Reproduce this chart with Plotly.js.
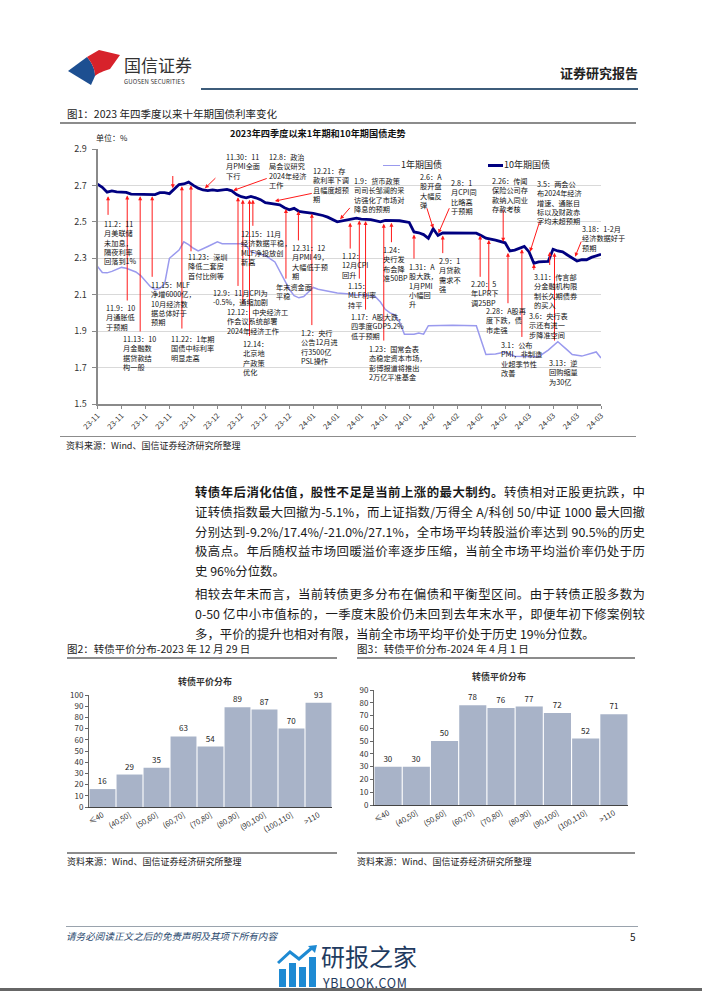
<!DOCTYPE html>
<html>
<head>
<meta charset="utf-8">
<script src="https://cdn.plot.ly/plotly-3.0.1.min.js"></script>
<style>
  html,body{margin:0;padding:0;background:#fff;}
  body{width:702px;height:991px;position:relative;overflow:hidden;font-family:"Noto Sans CJK SC","Noto Sans",sans-serif;color:#222;}
  #chart{position:absolute;left:0;top:0;width:702px;height:991px;}
  .abs{position:absolute;white-space:nowrap;}
  .rule{position:absolute;background:#8c8c8c;}
  .para{position:absolute;left:195px;width:450px;font-size:12.4px;line-height:19.8px;color:#1a1a1a;}
  .jl{text-align:justify;text-align-last:justify;white-space:nowrap;}
  .ll{text-align:left;white-space:nowrap;}
</style>
</head>
<body>
<div id="chart"></div>

<!-- header -->
<svg class="abs" style="left:68px;top:50px" width="52" height="36" viewBox="0 0 52 36">
  <path d="M0 21 L19 7 C24 13 27 19 27 26 L23 35 Z" fill="#1d4f91"/>
  <path d="M19 7 L31 0 L52 5 L42 19 C36 21 30 23 27 26 C27 19 24 13 19 7 Z" fill="#d7222b"/>
</svg>
<div class="abs" style="left:124px;top:55px;font-size:17px;line-height:20px;color:#333;">国信证券</div>
<div class="abs" style="left:124px;top:78px;font-size:6px;line-height:7px;color:#333;letter-spacing:0.1px;">GUOSEN SECURITIES</div>
<div class="rule" style="left:201px;top:88px;width:437px;height:2px;background:#3d5c7a;"></div>
<div class="abs" style="right:64px;top:64px;font-size:13px;line-height:17px;font-weight:bold;color:#222;">证券研究报告</div>

<!-- figure 1 -->
<div class="abs" style="left:67px;top:107px;font-size:10.5px;line-height:14px;color:#222;">图1：2023 年四季度以来十年期国债利率变化</div>
<div class="rule" style="left:60px;top:122px;width:576px;height:1.5px;"></div>
<div class="abs" style="left:230px;top:127px;font-size:9.2px;line-height:12px;font-weight:bold;color:#111;">2023年四季度以来1年期和10年期国债走势</div>
<div class="abs" style="left:96px;top:133px;font-size:8px;line-height:10px;color:#222;">单位：%</div>
<div class="abs" style="left:383px;top:164.5px;width:17px;height:1.5px;background:#9a9aee;"></div>
<div class="abs" style="left:401px;top:159px;font-size:9px;line-height:12px;color:#222;">1年期国债</div>
<div class="abs" style="left:488px;top:163.5px;width:15px;height:3px;background:#000080;"></div>
<div class="abs" style="left:504px;top:159px;font-size:9px;line-height:12px;color:#222;">10年期国债</div>
<div class="rule" style="left:60px;top:435.5px;width:576px;height:1.5px;"></div>
<div class="abs" style="left:66px;top:440px;font-size:9px;line-height:12px;color:#222;">资料来源：Wind、国信证券经济研究所整理</div>

<!-- paragraphs -->
<div class="para" style="top:483px;">
  <div class="jl"><b>转债年后消化估值，股性不足是当前上涨的最大制约。</b>转债相对正股更抗跌，中</div>
  <div class="jl">证转债指数最大回撤为-5.1%，而上证指数/万得全 A/科创 50/中证 1000 最大回撤</div>
  <div class="jl">分别达到-9.2%/17.4%/-21.0%/27.1%，全市场平均转股溢价率达到 90.5%的历史</div>
  <div class="jl">极高点。年后随权益市场回暖溢价率逐步压缩，当前全市场平均溢价率仍处于历</div>
  <div class="ll">史 96%分位数。</div>
</div>
<div class="para" style="top:585px;">
  <div class="jl">相较去年末而言，当前转债更多分布在偏债和平衡型区间。由于转债正股多数为</div>
  <div class="jl">0-50 亿中小市值标的，一季度末股价仍未回到去年末水平，即便年初下修案例较</div>
  <div class="ll">多，平价的提升也相对有限，当前全市场平均平价处于历史 19%分位数。</div>
</div>

<!-- figure 2 / 3 captions -->
<div class="abs" style="left:67px;top:642px;font-size:10.5px;line-height:14px;color:#222;">图2：转债平价分布-2023 年 12 月 29 日</div>
<div class="rule" style="left:67px;top:657px;width:270px;height:1.5px;"></div>
<div class="abs" style="left:357px;top:642px;font-size:10.5px;line-height:14px;color:#222;">图3：转债平价分布-2024 年 4 月 1 日</div>
<div class="rule" style="left:357px;top:657px;width:278px;height:1.5px;"></div>
<div class="abs" style="left:178px;top:676px;font-size:9px;line-height:12px;font-weight:bold;color:#333;">转债平价分布</div>
<div class="abs" style="left:472px;top:671px;font-size:9px;line-height:12px;font-weight:bold;color:#333;">转债平价分布</div>
<div class="rule" style="left:67px;top:852px;width:270px;height:1.5px;"></div>
<div class="rule" style="left:357px;top:852px;width:278px;height:1.5px;"></div>
<div class="abs" style="left:67px;top:856px;font-size:9px;line-height:12px;color:#222;">资料来源：Wind、国信证券经济研究所整理</div>
<div class="abs" style="left:357px;top:856px;font-size:9px;line-height:12px;color:#222;">资料来源：Wind、国信证券经济研究所整理</div>

<!-- footer -->
<div class="rule" style="left:66px;top:926px;width:572px;height:1px;background:#9aa3ad;"></div>
<div class="abs" style="left:66px;top:930px;font-size:9.6px;line-height:12px;font-style:italic;color:#2b4a6f;">请务必阅读正文之后的免责声明及其项下所有内容</div>
<div class="abs" style="left:630px;top:930px;font-size:10px;line-height:13px;color:#222;">5</div>
<svg class="abs" style="left:277px;top:945px" width="42" height="42" viewBox="0 0 42 42">
  <rect x="2" y="24" width="7" height="18" fill="#1e8ad3"/>
  <rect x="12" y="18" width="7" height="24" fill="#1e8ad3"/>
  <rect x="22" y="22" width="7" height="20" fill="#1e8ad3"/>
  <rect x="32" y="12" width="7" height="30" fill="#1e8ad3"/>
  <polyline points="1,18 13,7 22,14 36,2" fill="none" stroke="#1e8ad3" stroke-width="3"/>
  <polygon points="31,1 40,0 38,8" fill="#1e8ad3"/>
</svg>
<div class="abs" style="left:321px;top:944px;font-size:24px;line-height:24px;color:#1f3b60;">研报之家</div>
<div class="abs" style="left:323px;top:977px;font-size:12.5px;line-height:12px;color:#1f3b60;letter-spacing:0.6px;">YBLOOK.COM</div>
<div class="abs" style="left:0;top:988px;width:702px;height:3px;background:#666;"></div>

<script>
// ---------------- data ----------------
const tickLabels = ['23-11','23-11','23-11','23-11','23-11','23-12','23-12','23-12','23-12',
                    '24-01','24-01','24-01','24-01','24-01','24-02','24-02','24-02','24-02',
                    '24-03','24-03','24-03','24-03'];

// trading-day position (0 = first day shown) and yields
const days10y = [0,1,2,3,4,6,7,9,12,13,14,15,16,17,18,19,20,21,22,23,24,25,27,28,29,30,31,32,33,34,35,37,38,39,40,41,42,43,45,47,48,50,51,52,54,55,57,59,60,63,65,66,67,68,69,70,71,72,74,77,79,80,81,83,85,86,87,89,90,91,92,94,95,96,97,98,100,101,102,103,104,105];
const yield10y = [2.707,2.69,2.663,2.67,2.665,2.662,2.652,2.65,2.65,2.66,2.66,2.655,2.68,2.705,2.708,2.718,2.70,2.685,2.675,2.672,2.676,2.672,2.678,2.67,2.65,2.638,2.632,2.64,2.632,2.622,2.605,2.597,2.594,2.578,2.566,2.574,2.558,2.554,2.547,2.535,2.526,2.50,2.506,2.512,2.52,2.515,2.512,2.50,2.508,2.506,2.497,2.445,2.44,2.43,2.41,2.462,2.425,2.44,2.44,2.438,2.438,2.425,2.41,2.40,2.385,2.34,2.345,2.365,2.335,2.272,2.28,2.283,2.35,2.34,2.335,2.318,2.285,2.292,2.292,2.305,2.315,2.322];

const days1y = [0,1,2,3,5,6,8,9,11,12,13,14,15,16,17,18,19,20,21,23,25,26,30,31,32,35,37,39,40,41,42,43,45,46,48,50,52,54,56,58,59,60,61,62,63,64,66,67,68,69,74,78,79,80,81,83,85,87,92,94,96,98,99,101,104,105];
const yield1y = [2.255,2.222,2.22,2.228,2.25,2.245,2.225,2.205,2.145,2.128,2.135,2.16,2.30,2.325,2.345,2.39,2.375,2.355,2.34,2.365,2.39,2.38,2.38,2.37,2.335,2.315,2.28,2.18,2.13,2.095,2.083,2.09,2.14,2.13,2.12,2.11,2.105,2.098,2.10,2.088,2.06,2.02,2.0,1.99,1.95,1.883,1.883,1.89,1.883,1.93,1.932,1.93,1.93,1.85,1.772,1.775,1.785,1.762,1.76,1.796,1.842,1.796,1.772,1.763,1.786,1.753];

const parityBins = ['≤40','(40,50]','(50,60]','(60,70]','(70,80]','(80,90]','(90,100]','(100,110]','>110'];
const count20231229 = [16,29,35,63,54,89,87,70,93];
const count20240401 = [30,30,50,78,76,77,72,52,71];

// event notes: [text, x(day), y(top of text)]
const notes = [
  ['11.21：50家房企白<br>名单，对银行提出<br>“三个不低于”的<br>放贷要求',10.7,2.971],
  ['11.30：11<br>月PMI全面<br>下行',26.6,2.889],
  ['12.8：政治<br>局会议研究<br>2024年经济<br>工作',35.6,2.889],
  ['12.21：存<br>款利率下调<br>且幅度超预<br>期',44.7,2.812],
  ['1.9：货币政策<br>司司长邹澜的采<br>访强化了市场对<br>降息的预期',53.3,2.757],
  ['2.6：A<br>股开盘<br>大幅反<br>弹',67,2.779],
  ['2.8：1<br>月CPI同<br>比略高<br>于预期',73.5,2.746],
  ['2.26：传闻<br>保险公司存<br>款纳入同业<br>存款考核',82.1,2.757],
  ['3.5：两会公<br>布2024年经济<br>增速、通胀目<br>标以及财政赤<br>字均未超预期',91.4,2.741],
  ['3.18：1-2月<br>经济数据好于<br>预期',100.8,2.494],
  ['11.2：11<br>月美联储<br>未加息，<br>隔夜利率<br>回落到1%',1.1,2.521],
  ['11.9：10<br>月通胀低<br>于预期',1.6,2.06],
  ['11.13：10<br>月金融数<br>据贷款结<br>构一般',5.1,1.89],
  ['11.15：MLF<br>净增6000亿，<br>10月经济数<br>据总体好于<br>预期',10.9,2.186],
  ['11.22：1年期<br>国债中标利率<br>明显走高',15.1,1.89],
  ['11.23：深圳<br>降低二套房<br>首付比例等',18.7,2.34],
  ['12.9：11月CPI为<br>-0.5%，通缩加剧',23.9,2.142],
  ['12.12：中央经济工<br>作会议系统部署<br>2024年经济工作',26.8,2.038],
  ['12.14：<br>北京地<br>产政策<br>优化',30.1,1.862],
  ['12.15：11月<br>经济数据平稳，<br>MLF净投放创<br>新高',29.7,2.466],
  ['年末资金面<br>平稳',37,2.178],
  ['12.31：12<br>月PMI 49，<br>大幅低于预<br>期',40.4,2.392],
  ['1.2：央行<br>公告12月进<br>行3500亿<br>PSL操作',42.2,1.923],
  ['1.12：<br>12月CPI<br>回升',50.8,2.345],
  ['1.15：<br>MLF利率<br>持平',52,2.18],
  ['1.17：A股大跌，<br>四季度GDP5.2%<br>低于预期',52.7,2.008],
  ['1.23：国常会表<br>态稳定资本市场，<br>彭博报道将推出<br>2万亿平准基金',56.4,1.835],
  ['1.24：<br>央行发<br>布会降<br>准50BP',59.3,2.378],
  ['1.31：A<br>股大跌，<br>1月PMI<br>小幅回<br>升',64.8,2.285],
  ['2.9：1<br>月贷款<br>需求不<br>强',71,2.318],
  ['2.20：5<br>年LPR下<br>调25BP',77.7,2.19],
  ['2.28：A股再<br>度下跌，债<br>市走强',80.8,2.045],
  ['3.1：公布<br>PMI，非制造<br>业超季节性<br>改善',83.9,1.857],
  ['3.11：传言部<br>分金融机构限<br>制长久期债券<br>的买入',90.8,2.228],
  ['3.6：央行表<br>示还有进一<br>步降准空间',89.8,2.018],
  ['3.13：逆<br>回购缩量<br>为30亿',94,1.758]
];
// pointer arrows: [tail x, tail y, tip x, tip y]
const pointers = [
  [15.7,2.76,15.7,2.685],[24.9,2.748,22.4,2.684],[35.6,2.741,28.3,2.672],[45,2.658,37,2.614],
  [52.9,2.585,50.6,2.515],[68.6,2.583,70,2.465],[73.5,2.583,71.1,2.437],[84.6,2.574,84.6,2.391],
  [92.3,2.51,90.2,2.336],[101,2.40,99.6,2.309],
  [2.2,2.53,2.2,2.64],[6.2,2.06,6.2,2.645],[8.9,1.89,8.9,2.64],[11.4,2.19,11.4,2.64],
  [17.6,1.906,17.6,2.695],[19.5,2.33,19.5,2.70],[29.3,2.14,29.3,2.635],[30.3,2.04,30.3,2.622],
  [31.7,1.865,31.7,2.622],[32.4,2.47,32.4,2.622],[39.3,2.18,39.3,2.57],[41.9,2.39,41.9,2.56],
  [44.7,1.925,44.7,2.545],[52.7,2.345,52.7,2.495],[54.6,2.18,54.6,2.508],[55.9,2.01,55.9,2.505],
  [59.7,1.84,59.7,2.49],[61.3,2.38,61.3,2.495],[66,2.29,66,2.43],[72,2.32,72,2.425],
  [79.8,2.19,79.8,2.425],[81.6,2.11,81.6,2.40],[85.6,2.045,85.6,2.33],[88.5,1.86,88.5,2.35],
  [91,2.228,91,2.268],[94.3,2.255,94.3,2.335],[95.3,1.84,95.3,2.33]
];

// ---------------- figure ----------------
const W = 702, H = 991;
const PX = v => v / W;
const PY = v => 1 - v / H;
const FONT = '"Noto Sans CJK SC","Noto Sans",sans-serif';
const tickVals = tickLabels.map((_, i) => i * 5);

const traces = [
  {x: days1y, y: yield1y, type:'scatter', mode:'lines', line:{color:'#9a9aee', width:1.5}, xaxis:'x', yaxis:'y', hoverinfo:'skip'},
  {x: days10y, y: yield10y, type:'scatter', mode:'lines', line:{color:'#000080', width:2.8}, xaxis:'x', yaxis:'y', hoverinfo:'skip'},
  {x: parityBins, y: count20231229, type:'bar', xaxis:'x2', yaxis:'y2', marker:{color:'#a8b3c8'},
   text: count20231229.map(String), textposition:'outside', textfont:{size:8, color:'#222'}, cliponaxis:false},
  {x: parityBins, y: count20240401, type:'bar', xaxis:'x3', yaxis:'y3', marker:{color:'#a8b3c8'},
   text: count20240401.map(String), textposition:'outside', textfont:{size:8, color:'#222'}, cliponaxis:false}
];

const annotations = [];
pointers.forEach(p => annotations.push({
  xref:'x', yref:'y', axref:'x', ayref:'y', x:p[2], y:p[3], ax:p[0], ay:p[1],
  text:'', showarrow:true, arrowhead:2, arrowsize:0.8, arrowwidth:1, arrowcolor:'#ff1a1a', standoff:0, startstandoff:0
}));
notes.forEach(n => annotations.push({
  xref:'x', yref:'y', x:n[1], y:n[2], text:n[0], showarrow:false, xanchor:'left', yanchor:'top', align:'left',
  font:{size:7.2, color:'#111', family:FONT}, borderpad:0
}));

const layout = {
  width:W, height:H, margin:{l:0, r:0, t:0, b:0},
  paper_bgcolor:'rgba(0,0,0,0)', plot_bgcolor:'rgba(0,0,0,0)',
  showlegend:false, font:{family:FONT, color:'#222'}, bargap:0.04,
  xaxis:{domain:[PX(97.5), PX(601)], range:[0,105], tickmode:'array', tickvals:tickVals, ticktext:tickLabels,
         tickangle:-45, tickfont:{size:7.5, color:'#333'}, showline:true, linecolor:'#8a8a8a', linewidth:1.5,
         ticks:'outside', ticklen:3, tickcolor:'#8a8a8a', showgrid:false, zeroline:false, anchor:'y', fixedrange:true},
  yaxis:{domain:[PY(404), PY(149)], range:[1.5,2.9], tick0:1.5, dtick:0.2, tickformat:'.1f',
         tickfont:{size:9, color:'#333'}, showline:true, linecolor:'#8a8a8a', linewidth:2,
         ticks:'outside', ticklen:4, tickcolor:'#8a8a8a', showgrid:true, gridcolor:'#d9d9d9', gridwidth:1,
         zeroline:false, anchor:'x', ticklabelstandoff:3, fixedrange:true},
  xaxis2:{domain:[PX(89), PX(332)], type:'category', anchor:'y2', tickangle:-30, tickfont:{size:7.5, color:'#333'},
          showline:true, linecolor:'#444', linewidth:1, ticks:'', showgrid:false, fixedrange:true},
  yaxis2:{domain:[PY(807), PY(695)], range:[0,100], dtick:10, anchor:'x2', showline:true, linecolor:'#666',
          ticks:'outside', ticklen:3, tickcolor:'#666', tickfont:{size:8, color:'#333'}, showgrid:false, zeroline:false, fixedrange:true},
  xaxis3:{domain:[PX(374), PX(628)], type:'category', anchor:'y3', tickangle:-30, tickfont:{size:7.5, color:'#333'},
          showline:true, linecolor:'#444', linewidth:1, ticks:'', showgrid:false, fixedrange:true},
  yaxis3:{domain:[PY(805), PY(690)], range:[0,90], dtick:10, anchor:'x3', showline:true, linecolor:'#666',
          ticks:'outside', ticklen:3, tickcolor:'#666', tickfont:{size:8, color:'#333'}, showgrid:false, zeroline:false, fixedrange:true},
  annotations: annotations
};

Plotly.newPlot('chart', traces, layout, {staticPlot:true, displayModeBar:false});
</script>
</body>
</html>
